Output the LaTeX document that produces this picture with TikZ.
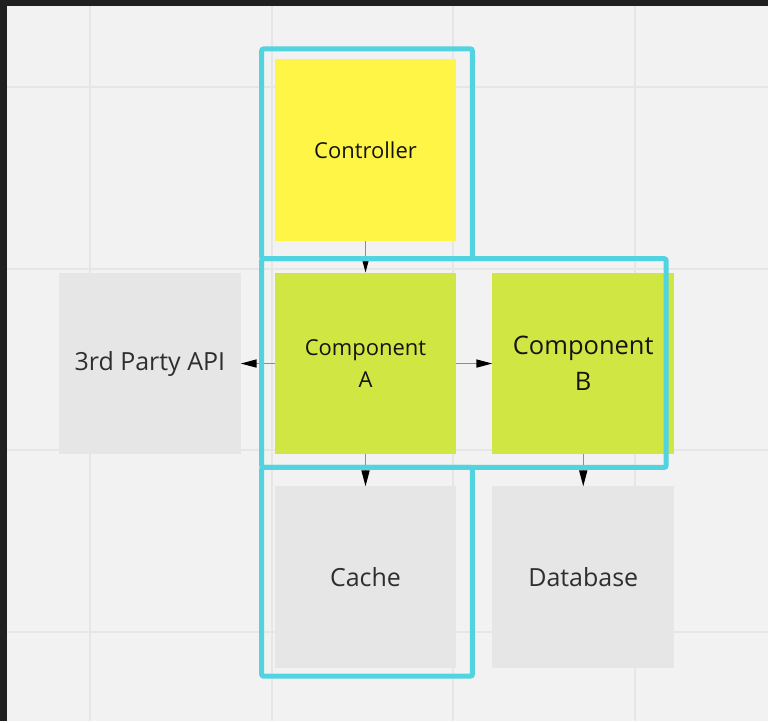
\documentclass[tikz,border=0pt]{standalone}
\usepackage{fontspec}
\setmainfont{Open Sans}
\usetikzlibrary{arrows.meta,positioning,calc}
\definecolor{bgcol}{HTML}{F2F2F2}
\definecolor{gridgray}{HTML}{E6E6E6}
\definecolor{darkband}{HTML}{202020}
\definecolor{stickyyel}{HTML}{FFF546}
\definecolor{stickygrn}{HTML}{D0E642}
\definecolor{boxgray}{HTML}{E6E6E6}
\definecolor{grpcyan}{HTML}{52D3E0}
\definecolor{linegray}{HTML}{8C8C8C}
\definecolor{txtgray}{HTML}{2E2E2E}
\tikzset{
  card/.style={rectangle,minimum width=182pt,minimum height=182pt,inner sep=0pt,outer sep=0pt,align=center,text=txtgray},
  ctrlcard/.style={card,fill=stickyyel,text=black!92},
  compcard/.style={card,fill=stickygrn,text=black!92},
  extcard/.style={card,fill=boxgray,font=\fontsize{25}{36}\selectfont},
  grp/.style={draw=grpcyan,line width=5pt,rounded corners=2pt},
  arr/.style={-{Triangle[length=16pt,width=8pt,black]},draw=linegray,line width=1.5pt},
  gridln/.style={draw=gridgray,line width=2pt}
}
\begin{document}
\begin{tikzpicture}[x=1pt,y=1pt,node distance=32pt and 34pt]
  % canvas and grid
  \fill[bgcol] (0,0) rectangle (769,-722);
  \foreach \g in {90,272,454,636} \draw[gridln] (\g,-6) -- (\g,-722);
  \foreach \g in {87,269,451,633} \draw[gridln] (7,-\g) -- (769,-\g);
  \fill[darkband] (0,0) rectangle (769,-6);
  \fill[darkband] (0,0) rectangle (7,-722);
  \useasboundingbox (0,0) rectangle (769,-722);

  \node[ctrlcard, font=\fontsize{22}{31}\selectfont] (ctrl) at (366,-150) {Controller};
  \node[compcard, below=of ctrl, font=\fontsize{22}{32}\selectfont] (compa) {Component\\A};
  \node[compcard, right=36pt of compa, font=\fontsize{25.5}{36}\selectfont] (compb) {Component\\B};
  \node[extcard, left=of compa] (api) {3rd Party API};
  \node[extcard, below=of compa] (cache) {Cache};
  \node[extcard, below=of compb] (db) {Database};

  \draw[arr] (ctrl) -- (compa);
  \draw[arr] (compa) -- (api);
  \draw[arr] (compa) -- (compb);
  \draw[arr] (compa) -- (cache);
  \draw[arr] (compb) -- (db);

  % groupings
  \draw[grp] ($(ctrl.north west)+(-13,10)$) rectangle ($(ctrl.south east)+(16,-18)$);
  \draw[grp] ($(compa.north west)+(-13,14)$) rectangle ($(compb.south east)+(-8,-13)$);
  \draw[grp] ($(cache.north west)+(-13,19)$) rectangle ($(cache.south east)+(16,-8)$);
\end{tikzpicture}
\end{document}
